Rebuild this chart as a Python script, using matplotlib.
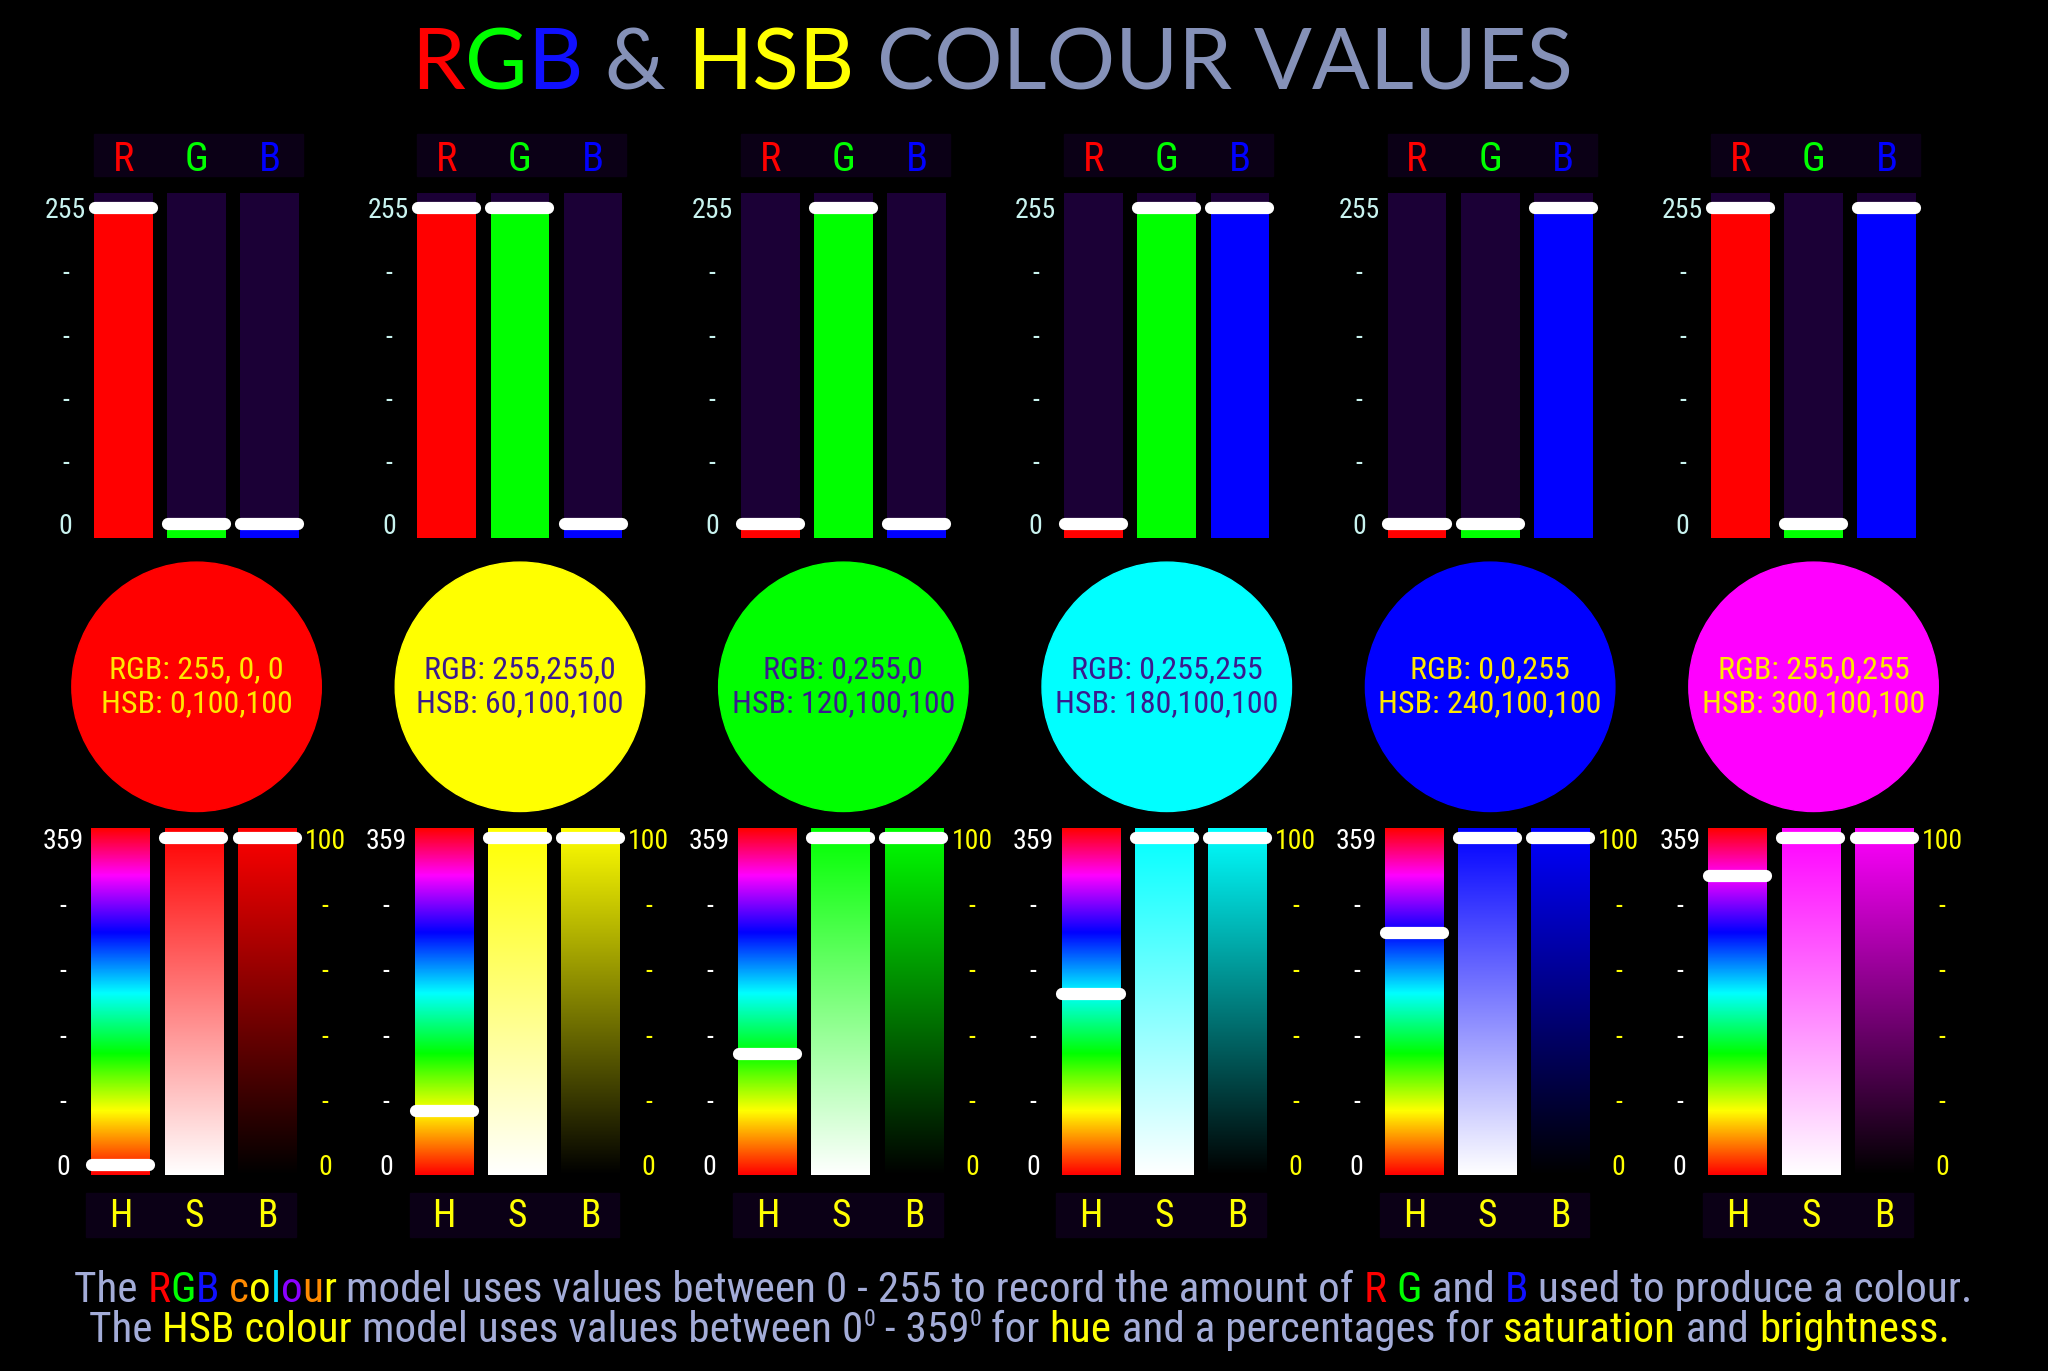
import numpy as np
import matplotlib
matplotlib.use("Agg")
import matplotlib.pyplot as plt
from matplotlib import font_manager
from matplotlib.font_manager import FontProperties
from matplotlib.patches import Rectangle, Circle
from matplotlib.colors import to_rgb, LinearSegmentedColormap
from matplotlib.transforms import blended_transform_factory

# ---- data -------------------------------------------------------------
red_values = [255, 255, 0, 0, 0, 255]
green_values = [0, 255, 255, 255, 0, 0]
blue_values = [0, 0, 0, 255, 255, 255]
hue_values = [0, 60, 120, 180, 240, 300]
saturation_values = [100, 100, 100, 100, 100, 100]
brightness_values = [100, 100, 100, 100, 100, 100]

rgb_captions = ["RGB: 255, 0, 0", "RGB: 255,255,0", "RGB: 0,255,0",
                "RGB: 0,255,255", "RGB: 0,0,255", "RGB: 255,0,255"]
caption_colours = ["#ffe800", "#3b1a8e", "#3b1a8e", "#3b1a8e", "#ffe800", "#ffe800"]

channel_letters = ["R", "G", "B"]
channel_colours = ["#ff0000", "#00ff00", "#0000ff"]
hsb_letters = ["H", "S", "B"]

rgb_ticks = [0, 51, 102, 153, 204, 255]
rgb_tick_labels = ["0", "-", "-", "-", "-", "255"]
hsb_ticks = [0, 20, 40, 60, 80, 100]
hue_tick_labels = ["0", "-", "-", "-", "-", "359"]
pct_tick_labels = ["0", "-", "-", "-", "-", "100"]

# where each pure hue sits along the hue strip (fraction of strip, bottom = 0)
hue_stops = [0, 60, 120, 180, 240, 300, 360]
hue_stop_pos = [0.0, 0.184, 0.35, 0.524, 0.70, 0.865, 1.0]
hue_stop_colours = ["#ff0000", "#ffff00", "#00ff00", "#00ffff", "#0000ff", "#ff00ff", "#ff0000"]

# ---- layout (measured on a 1568 x 1050 grid) ---------------------------
W, H = 2048, 1371
REF_W, REF_H = 1568, 1050
PITCH = 247.6
STEP = 56.0
BAR_FRAC = 45.0 / STEP
HANDLE_HALF = 0.39
HANDLE_LW = 8.8

BG = "black"
BAR_BG = "#1b0036"
BOX_BG = "#0b0016"
TEXT_BLUE = "#a3acd8"
TITLE_GREY = "#8591b8"
YELLOW = "#ffff00"


def wnum(f):
    w = f.weight
    return w if isinstance(w, (int, float)) else font_manager.weight_dict.get(w, 400)


def body_font_file():
    for name in ("Open Sans Condensed", "Roboto Condensed",
                 "Liberation Sans Narrow", "Open Sans"):
        faces = [f for f in font_manager.fontManager.ttflist
                 if f.name == name and f.style == "normal" and 300 <= wnum(f) <= 500]
        if faces:
            best = min(faces, key=lambda f: (abs(wnum(f) - 400),
                                             "Regular" not in f.fname))
            return best.fname
    return None


BODY_FILE = body_font_file()
available = {f.name for f in font_manager.fontManager.ttflist}
TITLE = "Lato" if "Lato" in available else "DejaVu Sans"


def bfp(size):
    if BODY_FILE:
        return FontProperties(fname=BODY_FILE, size=size)
    return FontProperties(family="DejaVu Sans", size=size)


def fx(x):
    return x / REF_W


def fy(y):
    return 1 - y / REF_H


def style_axes(ax):
    ax.set_facecolor("none")
    for s in ax.spines.values():
        s.set_visible(False)
    ax.set_xticks([])


fig = plt.figure(figsize=(W / 100, H / 100), dpi=100, facecolor=BG)
renderer = fig.canvas.get_renderer()

# overlay for the swatches
ov = fig.add_axes([0, 0, 1, 1])
ov.set_xlim(0, REF_W)
ov.set_ylim(REF_H, 0)
ov.axis("off")

# RGB value mapping: 255 -> y 159, 0 -> y 401
RGB_PX = 242 / 255
RGB_LO, RGB_HI = -13 / RGB_PX, 255 / RGB_PX
RGB_BOT, RGB_TOP = -11 / RGB_PX, 253 / RGB_PX

# HSB value mapping: 100 -> y 642, 0 -> y 892
HSB_LO, HSB_HI = -4.0, 103.6
HSB_BOT, HSB_TOP = -3.2, 102.8

hue_cmap = LinearSegmentedColormap.from_list(
    "hue_strip", list(zip(hue_stop_pos, hue_stop_colours)))

TICK_SIZE = 20
LETTER_SIZE = 29
CAPTION_SIZE = 23

for i in range(6):
    # ---- RGB bars ----
    left = 72 + PITCH * i
    ax = fig.add_axes([fx(left - 6), fy(414), 169 / REF_W, 268 / REF_H])
    style_axes(ax)
    values = [red_values[i], green_values[i], blue_values[i]]
    idx = np.arange(3)
    ax.bar(idx, RGB_TOP - RGB_BOT, bottom=RGB_BOT, width=BAR_FRAC, color=BAR_BG)
    ax.bar(idx, np.array(values) - RGB_BOT, bottom=RGB_BOT, width=BAR_FRAC,
           color=channel_colours)
    for k, v in enumerate(values):
        ax.plot([k - HANDLE_HALF, k + HANDLE_HALF], [v, v], color="white",
                lw=HANDLE_LW, solid_capstyle="round", clip_on=False, zorder=3)
    ax.set_xlim(-28.5 / STEP, 140.5 / STEP)
    ax.set_ylim(RGB_LO, RGB_HI)
    ax.set_yticks(rgb_ticks, rgb_tick_labels)
    ax.tick_params(axis="y", length=0, pad=15, labelcolor="#c9f3ef")
    plt.setp(ax.get_yticklabels(), ha="center", fontproperties=bfp(TICK_SIZE))

    bt = blended_transform_factory(ax.transData, fig.transFigure)
    ax.add_patch(Rectangle((-BAR_FRAC / 2, fy(135)), 160 / STEP, 32 / REF_H,
                           transform=bt, color=BOX_BG, clip_on=False, zorder=0))
    for k in range(3):
        ax.text(k, fy(131), channel_letters[k], transform=bt, ha="center",
                va="baseline", color=channel_colours[k],
                fontproperties=bfp(LETTER_SIZE))

    # ---- swatch ----
    swatch = (red_values[i] / 255, green_values[i] / 255, blue_values[i] / 255)
    cx = left + 78.5
    ov.add_patch(Circle((cx, 526), 95.5, color=swatch))
    hsb_caption = f"HSB: {hue_values[i]},{saturation_values[i]},{brightness_values[i]}"
    ov.text(cx, 513, rgb_captions[i], ha="center", va="center",
            color=caption_colours[i], fontproperties=bfp(CAPTION_SIZE))
    ov.text(cx, 539, hsb_caption, ha="center", va="center",
            color=caption_colours[i], fontproperties=bfp(CAPTION_SIZE))

    # ---- HSB bars ----
    lefth = 70 + PITCH * i
    ax = fig.add_axes([fx(lefth - 6), fy(902), 169 / REF_W, 269 / REF_H])
    style_axes(ax)
    t = np.linspace(0, 1, 256)[:, None]
    base = np.array(swatch)
    ax.imshow(t, cmap=hue_cmap, origin="lower", aspect="auto",
              extent=[-BAR_FRAC / 2, BAR_FRAC / 2, HSB_BOT, HSB_TOP])
    sat_img = (1 - t[:, :, None]) + t[:, :, None] * base
    ax.imshow(sat_img, origin="lower", aspect="auto",
              extent=[1 - BAR_FRAC / 2, 1 + BAR_FRAC / 2, HSB_BOT, HSB_TOP])
    bri_img = t[:, :, None] * base
    ax.imshow(bri_img, origin="lower", aspect="auto",
              extent=[2 - BAR_FRAC / 2, 2 + BAR_FRAC / 2, HSB_BOT, HSB_TOP])
    hue_pos = HSB_BOT + (HSB_TOP - HSB_BOT) * np.interp(hue_values[i], hue_stops, hue_stop_pos)
    marks = [max(hue_pos, 0), saturation_values[i], brightness_values[i]]
    for k, v in enumerate(marks):
        ax.plot([k - HANDLE_HALF, k + HANDLE_HALF], [v, v], color="white",
                lw=HANDLE_LW, solid_capstyle="round", clip_on=False, zorder=3)
    ax.set_xlim(-28.5 / STEP, 140.5 / STEP)
    ax.set_ylim(HSB_LO, HSB_HI)
    ax.set_yticks(hsb_ticks, hue_tick_labels)
    ax.tick_params(axis="y", length=0, pad=15, labelcolor="white")
    plt.setp(ax.get_yticklabels(), ha="center", fontproperties=bfp(TICK_SIZE))

    ax2 = ax.twinx()
    style_axes(ax2)
    ax2.set_ylim(HSB_LO, HSB_HI)
    ax2.set_yticks(hsb_ticks, pct_tick_labels)
    ax2.tick_params(axis="y", length=0, pad=15, labelcolor=YELLOW)
    plt.setp(ax2.get_yticklabels(), ha="center", fontproperties=bfp(TICK_SIZE))

    bt = blended_transform_factory(ax.transData, fig.transFigure)
    ax.add_patch(Rectangle((-26.5 / STEP, fy(947)), 160.5 / STEP, 33 / REF_H,
                           transform=bt, color=BOX_BG, clip_on=False, zorder=0))
    for k in range(3):
        ax.text(k, fy(940), hsb_letters[k], transform=bt, ha="center",
                va="baseline", color=YELLOW, fontproperties=bfp(LETTER_SIZE - 2))


# ---- multi-coloured text lines ----------------------------------------
def advance(s, fp):
    w = lambda txt: renderer.get_text_width_height_descent(txt, fp, ismath=False)[0]
    return w("|" + s + "|") - w("||")


def make_fp(family, size):
    return bfp(size) if family is None else FontProperties(family=family, size=size)


def run_widths(runs, family, size):
    return [advance(r[0], make_fp(family, size * r[2])) for r in runs]


def draw_runs(runs, cx, base_y, family, size, target_w=None):
    if target_w is not None:
        size *= target_w / sum(run_widths(runs, family, size))
    widths = run_widths(runs, family, size)
    x = cx * W / REF_W - sum(widths) / 2
    em = size / 72 * 100
    for (txt, col, rel, rise), w in zip(runs, widths):
        fig.text(x / W, fy(base_y) + rise * em / H, txt, color=col,
                 fontproperties=make_fp(family, size * rel),
                 ha="left", va="baseline")
        x += w
    return size


title_runs = [
    ("R", "#ff0000", 1, 0), ("G", "#00ff00", 1, 0), ("B", "#1010ff", 1, 0),
    (" & ", TITLE_GREY, 1, 0), ("HSB", YELLOW, 1, 0),
    (" COLOUR VALUES", TITLE_GREY, 1, 0),
]
draw_runs(title_runs, 759.5, 68.5, TITLE, 58, target_w=1161)

line1 = [
    ("The ", TEXT_BLUE, 1, 0), ("R", "#ff0000", 1, 0), ("G", "#00ff00", 1, 0),
    ("B", "#1010ff", 1, 0), (" ", TEXT_BLUE, 1, 0),
    ("c", "#ff8a00", 1, 0), ("o", "#ffff00", 1, 0), ("l", "#00d8ff", 1, 0),
    ("o", "#8a00ff", 1, 0), ("u", "#ff8a00", 1, 0), ("r", "#ffff00", 1, 0),
    (" model uses values between 0 - 255 to record the amount of ", TEXT_BLUE, 1, 0),
    ("R", "#ff0000", 1, 0), (" ", TEXT_BLUE, 1, 0), ("G", "#00ff00", 1, 0),
    (" and ", TEXT_BLUE, 1, 0), ("B", "#1010ff", 1, 0),
    (" used to produce a colour.", TEXT_BLUE, 1, 0),
]
body_size = draw_runs(line1, 783.5, 997, None, 24, target_w=1898)

line2 = [
    ("The ", TEXT_BLUE, 1, 0), ("HSB colour", YELLOW, 1, 0),
    (" model uses values between 0", TEXT_BLUE, 1, 0), ("0", TEXT_BLUE, 0.55, 0.38),
    (" - 359", TEXT_BLUE, 1, 0), ("0", TEXT_BLUE, 0.55, 0.38),
    (" for ", TEXT_BLUE, 1, 0), ("hue", YELLOW, 1, 0),
    (" and a percentages for ", TEXT_BLUE, 1, 0), ("saturation", YELLOW, 1, 0),
    (" and ", TEXT_BLUE, 1, 0), ("brightness.", YELLOW, 1, 0),
]
draw_runs(line2, 780.5, 1028, None, body_size)

fig.savefig("out.png", dpi=100, facecolor=BG)
plt.close(fig)
